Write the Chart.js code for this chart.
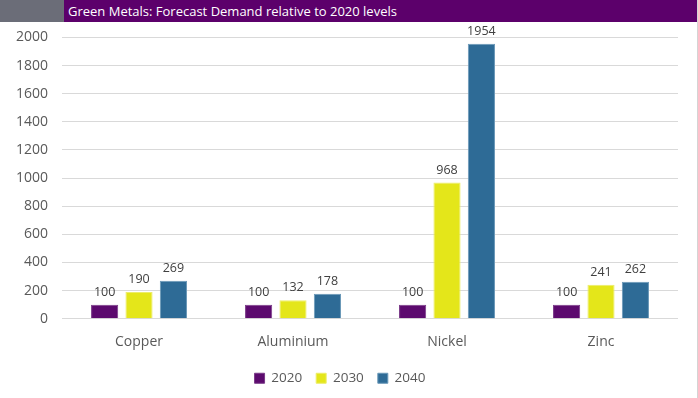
<!DOCTYPE html>
<html>
<head>
<meta charset="utf-8">
<script src="https://cdn.jsdelivr.net/npm/chart.js@4"></script>
<style>
  html, body { margin: 0; padding: 0; background: #ffffff; }
  #frame { position: relative; width: 698px; height: 398px; overflow: hidden; border-right: 1px solid #d4d4d4; box-sizing: border-box; }
  #head { position: absolute; left: 0; top: 0; width: 698px; height: 22px; z-index: 2; }
  #head-grey { position: absolute; left: 0; top: 0; width: 64px; height: 22px; background: #6b6d78; }
  #head-title { position: absolute; left: 64px; top: 0; right: 0; height: 22px; background: #5c006b; color: #ffffff;
    font-family: "Open Sans", sans-serif; font-size: 13px; line-height: 22px; padding-left: 4px; }
  #chart-box { position: absolute; left: 0; top: 15px; width: 696px; height: 383px; z-index: 1; }
</style>
</head>
<body>
<div id="frame">
  <div id="head">
    <div id="head-grey"></div>
    <div id="head-title">Green Metals: Forecast Demand relative to 2020 levels</div>
  </div>
  <div id="chart-box"><canvas id="metalChart"></canvas></div>
</div>
<script>
const metals = ["Copper", "Aluminium", "Nickel", "Zinc"];
const years = ["2020", "2030", "2040"];
const demand2020 = [100, 100, 100, 100];
const demand2030 = [190, 132, 968, 241];
const demand2040 = [269, 178, 1954, 262];
const yTicks = [0, 200, 400, 600, 800, 1000, 1200, 1400, 1600, 1800, 2000];

const barColors = ["#5c0a6e", "#e4e61a", "#2e6b96"];
const barBorders = ["#7a3a88", "#eded6a", "#6a98b8"];

const valueLabels = {
  id: "valueLabels",
  afterDatasetsDraw(chart) {
    const ctx = chart.ctx;
    ctx.save();
    ctx.font = "12.5px 'Open Sans', sans-serif";
    ctx.fillStyle = "#404040";
    ctx.textAlign = "center";
    ctx.textBaseline = "bottom";
    chart.data.datasets.forEach(function (ds, i) {
      chart.getDatasetMeta(i).data.forEach(function (bar, j) {
        ctx.fillText(ds.data[j], bar.x, bar.y - 6);
      });
    });
    ctx.restore();
  }
};

const ctx = document.getElementById("metalChart").getContext("2d");

new Chart(ctx, {
  type: "bar",
  data: {
    labels: metals,
    datasets: [
      { label: years[0], data: demand2020, backgroundColor: barColors[0], borderColor: barBorders[0], borderWidth: 1 },
      { label: years[1], data: demand2030, backgroundColor: barColors[1], borderColor: barBorders[1], borderWidth: 1 },
      { label: years[2], data: demand2040, backgroundColor: barColors[2], borderColor: barBorders[2], borderWidth: 1 }
    ]
  },
  options: {
    responsive: true,
    maintainAspectRatio: false,
    animation: false,
    categoryPercentage: 0.67,
    barPercentage: 0.79,
    layout: {
      padding: { left: 2, right: 18, top: 2, bottom: 3 }
    },
    plugins: {
      legend: {
        position: "bottom",
        labels: {
          boxWidth: 10,
          boxHeight: 10,
          padding: 14,
          color: "#595959",
          font: { family: "'Open Sans', sans-serif", size: 13.5 }
        }
      },
      tooltip: { enabled: false }
    },
    scales: {
      x: {
        grid: { display: false },
        border: { display: false },
        ticks: {
          color: "#595959",
          padding: 7,
          font: { family: "'Open Sans', sans-serif", size: 14 }
        }
      },
      y: {
        min: 0,
        max: 2000,
        afterBuildTicks: function (axis) {
          axis.ticks = yTicks.map(function (v) { return { value: v }; });
        },
        grid: { color: "#d9d9d9", drawTicks: false },
        border: { display: false },
        ticks: {
          color: "#595959",
          padding: 14,
          font: { family: "'Open Sans', sans-serif", size: 14 },
          callback: function (value) { return String(value); }
        }
      }
    }
  },
  plugins: [valueLabels]
});
</script>
</body>
</html>
